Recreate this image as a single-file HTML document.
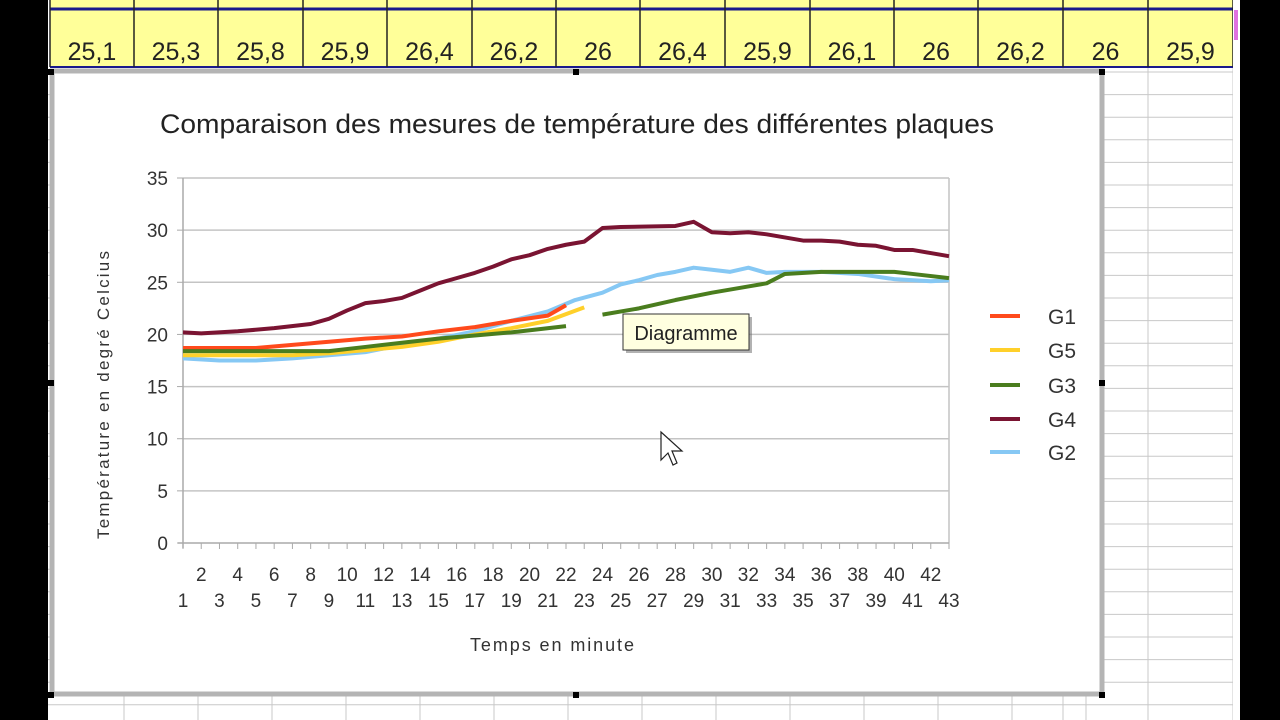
<!DOCTYPE html>
<html><head><meta charset="utf-8"><style>
html,body{margin:0;padding:0;width:1280px;height:720px;overflow:hidden;background:#000;}
svg{display:block;font-family:"Liberation Sans",sans-serif;}
</style></head><body>
<svg id="s" width="1280" height="720" xmlns="http://www.w3.org/2000/svg">
<rect x="48" y="0" width="1192" height="720" fill="#fff"/>
<g id="grid" stroke="#c8c8c8" stroke-width="1"></g>
<rect x="50" y="0" width="1183" height="68" fill="#ffff99"/>
<line x1="50" y1="9" x2="1233" y2="9" stroke="#1a1a8c" stroke-width="3"/>
<line x1="50" y1="67" x2="1233" y2="67" stroke="#1a1a8c" stroke-width="2"/>
<g id="cols" stroke="#222" stroke-width="1.5"></g>
<g id="vals" font-size="25" fill="#222" text-anchor="middle"></g>
<rect x="1233" y="0" width="7" height="720" fill="#fff"/>
<rect x="1234" y="10" width="4" height="30" fill="#e070e0"/>
<rect x="52" y="71" width="1050" height="623" fill="#fff" stroke="#b4b4b4" stroke-width="5"/>
<g fill="#000">
<rect x="48" y="69" width="6" height="6"/><rect x="573" y="69" width="6" height="6"/><rect x="1099" y="69" width="6" height="6"/>
<rect x="48" y="380" width="6" height="6"/><rect x="1099" y="380" width="6" height="6"/>
<rect x="48" y="692" width="6" height="6"/><rect x="573" y="692" width="6" height="6"/><rect x="1099" y="692" width="6" height="6"/>
</g>
<text x="577" y="133" font-size="27" textLength="834" lengthAdjust="spacingAndGlyphs" text-anchor="middle" fill="#222">Comparaison des mesures de température des différentes plaques</text>
<g id="plot"></g>
<text transform="translate(109,395) rotate(-90)" font-size="17" text-anchor="middle" textLength="288" lengthAdjust="spacing" fill="#333">Température en degré Celcius</text>
<text x="552" y="651" font-size="18" text-anchor="middle" textLength="164" lengthAdjust="spacing" fill="#333">Temps en minute</text>
<g font-size="21" fill="#333">
<line x1="990" y1="316" x2="1020" y2="316" stroke="#ff4a1c" stroke-width="4"/><text x="1048" y="324">G1</text>
<line x1="990" y1="350" x2="1020" y2="350" stroke="#ffd02a" stroke-width="4"/><text x="1048" y="358">G5</text>
<line x1="990" y1="385" x2="1020" y2="385" stroke="#4a7d1e" stroke-width="4"/><text x="1048" y="393">G3</text>
<line x1="990" y1="419" x2="1020" y2="419" stroke="#7a1432" stroke-width="4"/><text x="1048" y="427">G4</text>
<line x1="990" y1="452" x2="1020" y2="452" stroke="#86c8f4" stroke-width="4"/><text x="1048" y="460">G2</text>
</g>
<g id="tip">
<rect x="626" y="317" width="126" height="36" fill="#666" opacity="0.5"/>
<rect x="623" y="314" width="126" height="36" fill="#ffffe0" stroke="#333" stroke-width="1"/>
<text x="686" y="340" font-size="20" text-anchor="middle" fill="#222">Diagramme</text>
</g>
<path d="M661,432 L661,460 L668,453 L673,465 L677,463 L672,451 L682,451 Z" fill="#fff" stroke="#222" stroke-width="1.2"/>
</svg>
<script>
const NS="http://www.w3.org/2000/svg";
function el(p,t,a,txt){const e=document.createElementNS(NS,t);for(const k in a)e.setAttribute(k,a[k]);if(txt!==undefined)e.textContent=txt;p.appendChild(e);return e;}
const g=document.getElementById('grid');
for(let y=72;y<720;y+=22.6)el(g,'line',{x1:48,y1:y,x2:1240,y2:y});
[1063,1148,1233].forEach(x=>el(g,'line',{x1:x,y1:68,x2:x,y2:720}));
[124,198,272,346,420,494,568,642,716,790,864,938,1012,1086].forEach(x=>el(g,'line',{x1:x,y1:696,x2:x,y2:720}));
const cx=[50,134,218,303,387,472,556,640,725,810,894,978,1063,1148,1233];
const cg=document.getElementById('cols'),vg=document.getElementById('vals');
cx.forEach(x=>el(cg,'line',{x1:x,y1:0,x2:x,y2:67}));
const vals=["25,1","25,3","25,8","25,9","26,4","26,2","26","26,4","25,9","26,1","26","26,2","26","25,9"];
vals.forEach((v,i)=>el(vg,'text',{x:(cx[i]+cx[i+1])/2,y:60},v));
const p=document.getElementById('plot');
const X=m=>183+(m-1)*(766/42), Y=v=>543-v*(365/35);
for(let v=5;v<=35;v+=5)el(p,'line',{x1:183,y1:Y(v),x2:949,y2:Y(v),stroke:'#c4c4c4','stroke-width':1.5});
el(p,'line',{x1:949,y1:178,x2:949,y2:543,stroke:'#c4c4c4','stroke-width':1.5});
el(p,'line',{x1:183,y1:178,x2:183,y2:548,stroke:'#aaa','stroke-width':1.5});
el(p,'line',{x1:178,y1:543,x2:949,y2:543,stroke:'#aaa','stroke-width':1.5});
for(let v=0;v<=35;v+=5){el(p,'line',{x1:177,y1:Y(v),x2:183,y2:Y(v),stroke:'#aaa'});el(p,'text',{x:168,y:Y(v)+7,'font-size':19,'text-anchor':'end',fill:'#333'},v);}
for(let m=1;m<=43;m++){el(p,'line',{x1:X(m),y1:543,x2:X(m),y2:549,stroke:'#aaa'});
el(p,'text',{x:X(m),y:m%2?607:581,'font-size':19,'text-anchor':'middle',fill:'#333'},m);}
function line(pts,c){el(p,'polyline',{points:pts.map(q=>X(q[0])+','+Y(q[1])).join(' '),fill:'none',stroke:c,'stroke-width':4,'stroke-linejoin':'round'});}
line([[1,17.7],[3,17.5],[5,17.5],[7,17.7],[9,18],[11,18.3],[13,19],[15,19.6],[17,20.3],[19,21.3],[21,22.2],[22.5,23.3],[24,24],[25,24.8],[26,25.2],[27,25.7],[28,26],[29,26.4],[30,26.2],[31,26],[32,26.4],[33,25.9],[34,26],[36,26],[38,25.8],[40,25.3],[42,25.1],[43,25.2]],'#86c8f4');
line([[1,18.7],[5,18.7],[7,19],[9,19.3],[11,19.6],[13,19.8],[15,20.3],[17,20.7],[19,21.3],[21,21.8],[22,22.8]],'#ff4a1c');
line([[1,18],[7,18],[9,18.2],[11,18.5],[13,18.8],[15,19.3],[17,20],[19,20.6],[21,21.3],[23,22.6]],'#ffd02a');
line([[1,18.4],[9,18.4],[11,18.8],[13,19.2],[15,19.6],[17,19.9],[19,20.2],[22,20.8]],'#4a7d1e');
line([[24,21.9],[26,22.5],[28,23.3],[30,24],[32,24.6],[33,24.9],[34,25.8],[36,26],[38,26],[40,26],[41,25.8],[43,25.4]],'#4a7d1e');
line([[1,20.2],[2,20.1],[4,20.3],[6,20.6],[8,21],[9,21.5],[10,22.3],[11,23],[12,23.2],[13,23.5],[14,24.2],[15,24.9],[16,25.4],[17,25.9],[18,26.5],[19,27.2],[20,27.6],[21,28.2],[22,28.6],[23,28.9],[24,30.2],[25,30.3],[28,30.4],[29,30.8],[30,29.8],[31,29.7],[32,29.8],[33,29.6],[34,29.3],[35,29],[36,29],[37,28.9],[38,28.6],[39,28.5],[40,28.1],[41,28.1],[42,27.8],[43,27.5]],'#7a1432');
</script>
</body></html>
